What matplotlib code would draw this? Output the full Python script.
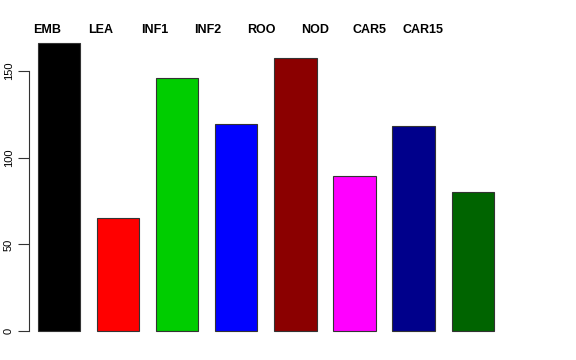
import numpy as np
import matplotlib
matplotlib.use("Agg")
import matplotlib.pyplot as plt

labels = ['EMB', 'LEA', 'INF1', 'INF2', 'ROO', 'NOD', 'CAR5', 'CAR15']
counts = [166, 65, 146, 119.5, 157.5, 89.5, 118.5, 80]
colours = ['#000000', '#FF0000', '#00CD00', '#0000FF', '#8B0000', '#FF00FF', '#00008B', '#006400']
yticks = [0, 50, 100, 150]

plt.rcParams['font.family'] = ['Liberation Sans', 'DejaVu Sans']

W, H = 576, 360
px_unit = 42.2  # pixels per bar width
fig = plt.figure(figsize=(W / 100, H / 100), dpi=100)
# axes box in pixels: left 29, right 540, bottom at 342.5 from top, top at 31.5
ax = fig.add_axes([29 / W, 17.5 / H, 511 / W, 311 / H])

# R style barplot: width 1, space 0.4
x = 0.4 + 1.4 * np.arange(len(counts)) + 0.5
ax.bar(x, counts, width=1.0, color=colours, edgecolor='#333333', linewidth=0.8)

xmin = 0.187
ax.set_xlim(xmin, xmin + 511 / px_unit)
ax.set_ylim(-6.65, 172.9)

for s in ['top', 'right', 'bottom']:
    ax.spines[s].set_visible(False)
ax.spines['left'].set_bounds(0, 150)
ax.spines['left'].set_color('#333333')
ax.spines['left'].set_linewidth(0.8)
ax.set_xticks([])
ax.set_yticks(yticks)
ax.set_yticklabels([str(t) for t in yticks], rotation=90, va='center', fontsize=8)
ax.tick_params(axis='y', length=8, width=0.8, color='#333333', pad=3)

# group names across the top
for i, lab in enumerate(labels):
    xpos = xmin + (47 - 29) / px_unit + i * 53.7 / px_unit
    ax.text(xpos, 1.005, lab, transform=ax.get_xaxis_transform(), ha='center',
            va='center', fontsize=9, fontweight='bold')

fig.savefig('out.png', dpi=100)
